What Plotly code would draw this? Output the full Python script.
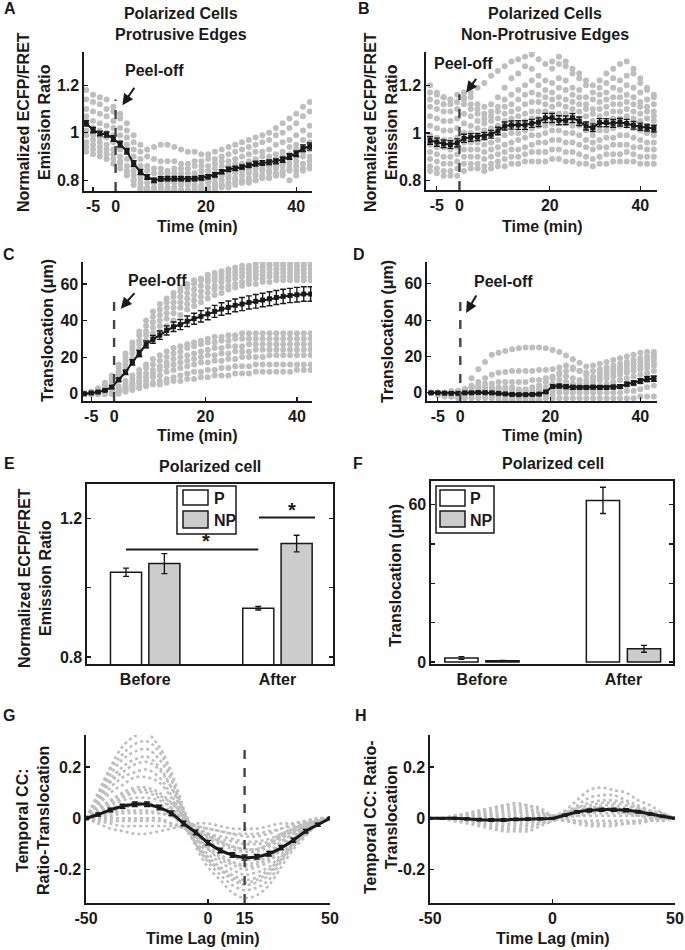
import plotly.graph_objects as go

W, H = 685, 950
FONT = "Liberation Sans, Arial, Helvetica, sans-serif"
INK = "#1a1a1a"
DOT = "#bebebe"
NPGRAY = "#cccccc"

# ---------------- data ----------------
time_min = [-6.5, -5, -3.5, -2, -0.5, 1, 2.5, 4, 5.5, 7, 8.5, 10, 11.5, 13, 14.5, 16, 17.5,
            19, 20.5, 22, 23.5, 25, 26.5, 28, 29.5, 31, 32.5, 34, 35.5, 37, 38.5, 40, 41.5, 43]
time_ticks = [-5, 0, 20, 40]
time_ticktext = ["-5", "0", "20", "40"]

# Panel A: protrusive edges, ECFP/FRET ratio
a_mean = [1.04, 1.011, 0.997, 0.993, 0.976, 0.952, 0.922, 0.870, 0.835, 0.814,
          0.800, 0.806, 0.807, 0.807, 0.807, 0.806, 0.807, 0.810, 0.815, 0.823,
          0.836, 0.846, 0.850, 0.856, 0.863, 0.870, 0.873, 0.876, 0.880, 0.887,
          0.900, 0.912, 0.935, 0.942]
a_err = [0.012, 0.011, 0.010, 0.011, 0.012, 0.012, 0.012, 0.012, 0.011, 0.010,
         0.009, 0.009, 0.009, 0.009, 0.009, 0.009, 0.009, 0.009, 0.009, 0.009,
         0.009, 0.009, 0.009, 0.009, 0.009, 0.010, 0.010, 0.010, 0.010, 0.011,
         0.012, 0.012, 0.014, 0.015]
a_cells = [
    [1.18, 1.16, 1.15, 1.14, 1.11, 1.08, 1.04, 0.99, 0.95, 0.93, 0.94, 0.95, 0.95, 0.94, 0.93, 0.92, 0.92, 0.91, 0.91, 0.92, 0.93, 0.94, 0.95, 0.96, 0.97, 0.98, 0.99, 1.00, 1.02, 1.04, 1.06, 1.08, 1.11, 1.13],
    [1.14, 1.13, 1.12, 1.10, 1.09, 1.06, 1.01, 0.96, 0.92, 0.90, 0.89, 0.88, 0.88, 0.88, 0.87, 0.87, 0.88, 0.88, 0.89, 0.89, 0.90, 0.91, 0.92, 0.93, 0.94, 0.95, 0.96, 0.97, 0.99, 1.00, 1.02, 1.04, 1.07, 1.09],
    [1.10, 1.09, 1.08, 1.07, 1.05, 1.02, 0.98, 0.93, 0.89, 0.86, 0.85, 0.85, 0.84, 0.85, 0.85, 0.85, 0.86, 0.86, 0.86, 0.87, 0.88, 0.88, 0.89, 0.90, 0.91, 0.92, 0.92, 0.93, 0.95, 0.96, 0.97, 0.99, 1.01, 1.03],
    [1.07, 1.05, 1.04, 1.03, 1.02, 0.99, 0.95, 0.90, 0.86, 0.84, 0.83, 0.83, 0.83, 0.83, 0.83, 0.83, 0.83, 0.84, 0.84, 0.85, 0.86, 0.86, 0.87, 0.87, 0.88, 0.89, 0.90, 0.90, 0.91, 0.92, 0.94, 0.95, 0.97, 0.99],
    [1.04, 1.02, 1.01, 1.00, 0.99, 0.96, 0.92, 0.87, 0.83, 0.81, 0.80, 0.80, 0.80, 0.80, 0.81, 0.81, 0.81, 0.82, 0.82, 0.83, 0.83, 0.84, 0.85, 0.85, 0.86, 0.87, 0.87, 0.88, 0.89, 0.90, 0.91, 0.93, 0.94, 0.96],
    [1.01, 0.99, 0.98, 0.98, 0.96, 0.93, 0.89, 0.84, 0.81, 0.79, 0.79, 0.78, 0.79, 0.79, 0.79, 0.79, 0.80, 0.80, 0.80, 0.81, 0.82, 0.82, 0.83, 0.84, 0.84, 0.85, 0.85, 0.86, 0.86, 0.87, 0.89, 0.90, 0.92, 0.93],
    [0.99, 0.97, 0.96, 0.95, 0.93, 0.90, 0.86, 0.82, 0.79, 0.77, 0.77, 0.77, 0.77, 0.77, 0.78, 0.78, 0.78, 0.78, 0.79, 0.79, 0.80, 0.81, 0.81, 0.82, 0.83, 0.83, 0.84, 0.84, 0.85, 0.86, 0.87, 0.88, 0.90, 0.90],
    [0.96, 0.95, 0.94, 0.93, 0.91, 0.88, 0.84, 0.80, 0.77, 0.76, 0.76, 0.76, 0.76, 0.76, 0.76, 0.76, 0.77, 0.77, 0.77, 0.78, 0.78, 0.79, 0.80, 0.80, 0.81, 0.82, 0.82, 0.83, 0.83, 0.84, 0.85, 0.86, 0.87, 0.88],
    [0.94, 0.93, 0.92, 0.91, 0.89, 0.87, 0.82, 0.78, 0.76, 0.75, 0.75, 0.75, 0.75, 0.75, 0.75, 0.75, 0.75, 0.76, 0.76, 0.76, 0.77, 0.77, 0.78, 0.79, 0.79, 0.80, 0.81, 0.81, 0.82, 0.83, 0.84, 0.84, 0.85, 0.86],
    [0.92, 0.91, 0.90, 0.89, 0.87, 0.85, 0.83, 0.80, 0.77, 0.76, 0.75, 0.75, 0.75, 0.75, 0.75, 0.75, 0.76, 0.76, 0.77, 0.77, 0.78, 0.78, 0.79, 0.79, 0.80, 0.80, 0.81, 0.81, 0.82, 0.82, 0.80, 0.82, 0.84, 0.85],
]

# Panel B: non-protrusive edges, ECFP/FRET ratio
b_mean = [0.968, 0.961, 0.954, 0.951, 0.958, 0.977, 0.981, 0.983, 0.987, 0.994,
          1.008, 1.029, 1.033, 1.033, 1.033, 1.040, 1.045, 1.063, 1.063, 1.053,
          1.053, 1.063, 1.049, 1.029, 1.022, 1.043, 1.043, 1.040, 1.045, 1.040,
          1.032, 1.026, 1.022, 1.018]
b_err = [0.016, 0.017, 0.016, 0.016, 0.017, 0.017, 0.016, 0.015, 0.015, 0.016,
         0.016, 0.017, 0.017, 0.018, 0.018, 0.017, 0.018, 0.019, 0.019, 0.019,
         0.018, 0.019, 0.018, 0.017, 0.016, 0.017, 0.017, 0.016, 0.016, 0.017,
         0.016, 0.015, 0.014, 0.014]
b_cells = [
    [1.20, 1.17, 1.15, 1.14, 1.13, 1.15, 1.17, 1.19, 1.21, 1.24, 1.26, 1.28, 1.30, 1.31, 1.32, 1.33, 1.31, 1.29, 1.30, 1.32, 1.30, 1.27, 1.25, 1.22, 1.20, 1.22, 1.25, 1.27, 1.29, 1.30, 1.27, 1.23, 1.19, 1.16],
    [1.17, 1.16, 1.15, 1.14, 1.16, 1.17, 1.15, 1.12, 1.11, 1.12, 1.15, 1.19, 1.23, 1.25, 1.28, 1.27, 1.24, 1.22, 1.27, 1.29, 1.28, 1.25, 1.23, 1.20, 1.17, 1.19, 1.21, 1.23, 1.22, 1.24, 1.25, 1.21, 1.18, 1.15],
    [1.14, 1.13, 1.12, 1.12, 1.13, 1.14, 1.12, 1.10, 1.08, 1.09, 1.11, 1.14, 1.16, 1.18, 1.20, 1.22, 1.20, 1.18, 1.21, 1.23, 1.22, 1.19, 1.18, 1.15, 1.14, 1.16, 1.17, 1.19, 1.18, 1.20, 1.19, 1.17, 1.14, 1.12],
    [1.11, 1.10, 1.09, 1.09, 1.10, 1.12, 1.10, 1.08, 1.06, 1.07, 1.09, 1.11, 1.12, 1.14, 1.16, 1.17, 1.16, 1.15, 1.17, 1.19, 1.18, 1.16, 1.15, 1.12, 1.10, 1.13, 1.14, 1.15, 1.15, 1.16, 1.15, 1.13, 1.11, 1.09],
    [1.07, 1.06, 1.05, 1.05, 1.06, 1.08, 1.07, 1.05, 1.04, 1.05, 1.06, 1.08, 1.09, 1.10, 1.12, 1.13, 1.13, 1.12, 1.14, 1.15, 1.14, 1.13, 1.12, 1.10, 1.08, 1.10, 1.11, 1.12, 1.12, 1.13, 1.12, 1.11, 1.09, 1.07],
    [1.03, 1.02, 1.01, 1.01, 1.02, 1.04, 1.03, 1.02, 1.01, 1.02, 1.03, 1.05, 1.06, 1.07, 1.08, 1.09, 1.09, 1.09, 1.11, 1.12, 1.11, 1.10, 1.09, 1.07, 1.05, 1.07, 1.08, 1.09, 1.09, 1.10, 1.09, 1.08, 1.06, 1.05],
    [0.99, 0.98, 0.97, 0.97, 0.98, 1.00, 1.00, 0.99, 0.98, 0.99, 1.00, 1.02, 1.03, 1.04, 1.05, 1.06, 1.06, 1.06, 1.08, 1.08, 1.08, 1.07, 1.06, 1.04, 1.02, 1.04, 1.05, 1.06, 1.06, 1.07, 1.06, 1.05, 1.03, 1.02],
    [0.95, 0.94, 0.94, 0.93, 0.94, 0.96, 0.96, 0.96, 0.95, 0.96, 0.97, 0.99, 1.00, 1.00, 1.01, 1.02, 1.03, 1.03, 1.04, 1.05, 1.04, 1.03, 1.03, 1.01, 0.99, 1.01, 1.01, 1.02, 1.03, 1.03, 1.02, 1.01, 1.00, 0.99],
    [0.92, 0.91, 0.90, 0.90, 0.91, 0.93, 0.93, 0.93, 0.92, 0.93, 0.94, 0.95, 0.96, 0.97, 0.98, 0.99, 0.99, 1.00, 1.01, 1.01, 1.00, 1.00, 0.99, 0.97, 0.96, 0.97, 0.98, 0.98, 0.99, 0.99, 0.98, 0.97, 0.96, 0.96],
    [0.89, 0.88, 0.87, 0.87, 0.88, 0.90, 0.90, 0.90, 0.89, 0.90, 0.91, 0.92, 0.93, 0.93, 0.94, 0.95, 0.96, 0.96, 0.97, 0.97, 0.96, 0.96, 0.95, 0.94, 0.93, 0.94, 0.94, 0.95, 0.95, 0.95, 0.94, 0.94, 0.93, 0.93],
    [0.86, 0.85, 0.84, 0.84, 0.85, 0.87, 0.87, 0.87, 0.86, 0.87, 0.88, 0.89, 0.90, 0.90, 0.91, 0.92, 0.92, 0.92, 0.93, 0.93, 0.92, 0.92, 0.91, 0.90, 0.89, 0.90, 0.91, 0.91, 0.91, 0.92, 0.91, 0.90, 0.90, 0.90],
    [0.84, 0.83, 0.82, 0.82, 0.82, 0.84, 0.85, 0.85, 0.84, 0.85, 0.86, 0.86, 0.87, 0.87, 0.88, 0.88, 0.88, 0.88, 0.89, 0.89, 0.88, 0.88, 0.87, 0.87, 0.86, 0.87, 0.87, 0.88, 0.88, 0.88, 0.88, 0.87, 0.87, 0.87],
]

# Panel C: protrusive edges, translocation (um)
c_mean = [0, 0.4, 0.9, 1.8, 3.6, 7.6, 11.7, 17.1, 22, 27,
          29.7, 32, 34.6, 36.6, 37.8, 39.6, 41, 42.3, 43.6, 45,
          46.3, 47.2, 48.3, 49, 49.9, 50.5, 51.2, 51.9, 52.6, 53.2,
          53.7, 54.1, 54.5, 54.5]
c_err = [0.3, 0.3, 0.4, 0.5, 0.7, 1.0, 1.2, 1.5, 1.7, 1.9,
         2.1, 2.3, 2.5, 2.6, 2.8, 2.9, 3.0, 3.1, 3.2, 3.3,
         3.4, 3.5, 3.5, 3.6, 3.6, 3.7, 3.7, 3.8, 3.8, 3.9,
         3.9, 4.0, 4.0, 4.0]
c_cells = [
    [0, 1, 3, 6, 10, 16, 22, 28, 34, 40, 45, 49, 52, 55, 58, 60, 62, 63, 65, 66, 67, 68, 69, 70, 70, 71, 71, 71, 71, 71, 71, 71, 71, 71],
    [0, 1, 2, 5, 9, 14, 20, 26, 32, 37, 42, 46, 50, 53, 56, 58, 60, 62, 63, 64, 65, 66, 67, 68, 68, 69, 69, 70, 70, 70, 70, 70, 70, 70],
    [0, 0, 2, 4, 8, 12, 18, 24, 29, 34, 39, 43, 47, 50, 53, 55, 57, 59, 61, 62, 63, 64, 65, 66, 66, 67, 67, 68, 68, 68, 68, 68, 68, 68],
    [0, 0, 1, 3, 7, 11, 16, 22, 27, 32, 36, 40, 44, 47, 50, 52, 54, 56, 58, 59, 61, 62, 63, 64, 64, 65, 65, 66, 66, 66, 66, 66, 66, 66],
    [0, 0, 1, 3, 6, 10, 14, 19, 24, 29, 33, 37, 41, 44, 47, 49, 51, 53, 55, 57, 58, 59, 60, 61, 62, 63, 63, 64, 64, 64, 64, 64, 64, 64],
    [0, 0, 1, 2, 5, 8, 12, 17, 21, 26, 30, 34, 37, 40, 43, 46, 48, 50, 52, 54, 55, 57, 58, 59, 60, 60, 61, 61, 62, 62, 62, 62, 62, 62],
    [0, 0, 0, 1, 2, 4, 7, 10, 13, 16, 19, 21, 23, 25, 26, 27, 28, 29, 30, 31, 31, 32, 32, 33, 33, 33, 33, 33, 33, 33, 33, 33, 33, 33],
    [0, 0, 0, 1, 2, 3, 5, 8, 11, 14, 16, 18, 20, 22, 23, 25, 26, 27, 28, 28, 29, 29, 30, 30, 30, 30, 30, 30, 30, 30, 30, 30, 30, 30],
    [0, 0, 0, 0, 1, 2, 4, 6, 9, 11, 13, 15, 17, 19, 20, 21, 22, 23, 24, 25, 25, 26, 26, 26, 27, 27, 27, 27, 27, 27, 27, 27, 27, 27],
    [0, 0, 0, 0, 1, 2, 3, 5, 7, 9, 11, 13, 15, 16, 17, 18, 19, 20, 21, 21, 22, 22, 23, 23, 23, 24, 24, 24, 24, 24, 24, 24, 24, 24],
    [0, 0, 0, 0, 0, 1, 2, 4, 6, 7, 9, 10, 12, 13, 14, 15, 16, 17, 17, 18, 18, 19, 19, 20, 20, 20, 20, 21, 21, 21, 21, 21, 21, 21],
    [0, 0, 0, 0, 0, 1, 2, 3, 4, 5, 6, 7, 8, 9, 10, 11, 12, 12, 13, 13, 14, 14, 15, 15, 15, 16, 16, 16, 16, 16, 16, 16, 16, 16],
    [0, 0, 0, 0, 0, 0, 1, 2, 3, 4, 5, 5, 6, 7, 7, 8, 8, 9, 9, 10, 10, 10, 11, 11, 11, 12, 12, 12, 12, 12, 12, 13, 13, 13],
]

# Panel D: non-protrusive edges, translocation (um)
d_mean = [0, 0, -0.2, -0.3, -0.3, 0, 0, 0.2, 0.1, 0,
          -0.3, -0.6, -0.9, -1, -1, -0.9, -0.7, 0.5, 3.5, 3.7,
          3.4, 3.0, 3.0, 3.0, 3.1, 3.0, 3.0, 3.2, 3.5, 4.8,
          5.5, 6.5, 7.6, 7.8]
d_err = [0.3, 0.3, 0.3, 0.3, 0.3, 0.4, 0.5, 0.5, 0.5, 0.5,
         0.5, 0.5, 0.5, 0.5, 0.5, 0.5, 0.5, 0.6, 0.9, 1.0,
         1.0, 1.0, 0.9, 0.9, 0.9, 0.9, 0.9, 1.0, 1.0, 1.1,
         1.2, 1.3, 1.4, 1.5]
d_cells = [
    [0, 0, 0, 0, 0, 2, 8, 13, 17, 21, 22, 23, 24, 24.5, 25, 25, 25, 24.5, 23.5, 22.5, 20.5, 18.5, 16.5, 14.5, 15, 16, 17, 18, 19, 20, 21, 22, 22.5, 22.5],
    [0, 0, 0, 0, 0, 2, 4, 6, 8, 10, 11, 11.5, 12, 12, 12, 12, 12.5, 12.5, 13, 14, 15, 14, 12, 11, 12, 13, 14, 15, 16, 17, 18, 19, 20, 21],
    [0, 0, 0, 0, 1, 2, 3, 4, 5, 5, 6, 6, 6, 6, 6, 7, 7, 8, 9, 11, 12, 13, 12, 10, 9, 11, 12, 13, 14, 15, 16, 17, 18, 19],
    [0, 0, 0, 1, 1, 2, 3, 3, 3, 3, 3, 3, 3, 2, 2, 3, 4, 6, 8, 10, 9, 8, 7, 7, 8, 9, 10, 11, 12, 13, 14, 15, 16, 17],
    [0, 0, 0, 0, 1, 1, 1, 2, 2, 2, 2, 2, 2, 1, 1, 1, 2, 3, 5, 7, 6, 5, 5, 5, 6, 7, 8, 9, 10, 11, 12, 13, 14, 15],
    [0, 0, 0, 0, 0, 0, 1, 1, 1, 1, 1, 0, 0, 0, 0, 0, 0, 1, 3, 4, 4, 3, 3, 3, 3, 4, 5, 6, 7, 8, 9, 10, 11, 12],
    [0, 0, -1, -1, -1, 0, 0, 0, 0, 0, -1, -1, -2, -2, -2, -2, -1, 0, 1, 2, 2, 2, 2, 2, 2, 2, 3, 3, 3, 4, 5, 6, 7, 8],
    [0, -1, -1, -2, -2, -1, -1, -1, -1, -2, -2, -3, -3, -3, -3, -3, -2, -2, -1, 0, 0, 0, 0, 0, 0, 0, 0, 0, 0, 1, 1, 2, 3, 4],
    [0, -1, -2, -2, -3, -3, -3, -3, -3, -3, -4, -4, -4, -4, -4, -4, -4, -3, -3, -3, -3, -3, -3, -3, -3, -3, -3, -3, -3, -3, -3, -2, -2, -2],
]

# Panels E, F: bar charts
phase = ["Before", "After"]
e_p = [1.045, 0.941]
e_p_err = [0.012, 0.005]
e_np = [1.070, 1.128]
e_np_err = [0.029, 0.024]
f_p = [1.5, 61.6]
f_p_err = [0.5, 5.0]
f_np = [0.4, 5.0]
f_np_err = [0.2, 1.3]

# Panels G, H: temporal cross-correlation
lag = [-50, -45, -40, -35, -30, -25, -20, -15, -10, -5, 0, 5, 10, 15, 20, 25, 30, 35, 40, 45, 50]
g_mean = [0, 0.015, 0.033, 0.047, 0.055, 0.055, 0.042, 0.02, -0.02, -0.055, -0.095,
          -0.125, -0.143, -0.153, -0.15, -0.138, -0.115, -0.085, -0.05, -0.025, 0]
g_err = [0.005, 0.006, 0.007, 0.008, 0.009, 0.009, 0.009, 0.009, 0.009, 0.009, 0.009,
         0.009, 0.009, 0.010, 0.009, 0.009, 0.008, 0.008, 0.007, 0.006, 0.004]
g_cells = [
    [0, .10, .20, .28, .32, .33, .28, .18, .04, -.08, -.16, -.20, -.23, -.25, -.24, -.21, -.16, -.10, -.06, -.02, 0],
    [0, .09, .19, .25, .29, .30, .26, .16, .02, -.11, -.19, -.24, -.29, -.31, -.30, -.26, -.19, -.12, -.07, -.02, 0],
    [0, .08, .17, .23, .26, .27, .23, .15, .03, -.07, -.14, -.17, -.20, -.22, -.21, -.19, -.14, -.09, -.05, -.02, 0],
    [0, .07, .15, .20, .23, .24, .20, .12, .01, -.10, -.17, -.22, -.26, -.28, -.27, -.24, -.17, -.11, -.06, -.02, 0],
    [0, .07, .14, .18, .21, .22, .19, .12, .03, -.06, -.11, -.14, -.17, -.18, -.17, -.15, -.11, -.07, -.04, -.01, 0],
    [0, .06, .12, .16, .18, .19, .16, .09, .00, -.10, -.16, -.20, -.24, -.26, -.25, -.22, -.16, -.10, -.06, -.02, 0],
    [0, .05, .10, .13, .16, .16, .14, .08, .00, -.07, -.12, -.16, -.18, -.20, -.19, -.17, -.12, -.08, -.04, -.02, 0],
    [0, .04, .07, .10, .12, .12, .10, .06, .00, -.06, -.10, -.12, -.15, -.16, -.16, -.14, -.10, -.06, -.04, -.01, 0],
    [0, .03, .06, .08, .10, .10, .08, .04, -.03, -.10, -.15, -.19, -.22, -.24, -.23, -.20, -.15, -.10, -.05, -.02, 0],
    [0, .02, .05, .07, .08, .08, .07, .04, -.01, -.05, -.08, -.10, -.12, -.13, -.13, -.11, -.08, -.05, -.03, -.01, 0],
    [0, .02, .03, .04, .05, .05, .04, .01, -.03, -.08, -.12, -.15, -.17, -.19, -.18, -.16, -.12, -.08, -.04, -.02, 0],
    [0, .01, .02, .03, .03, .03, .02, .01, -.02, -.04, -.06, -.08, -.09, -.10, -.10, -.09, -.06, -.04, -.02, -.01, 0],
    [0, 0, 0, 0, 0, 0, 0, -.02, -.04, -.07, -.09, -.12, -.14, -.15, -.15, -.13, -.09, -.06, -.03, -.01, 0],
    [0, -.01, -.02, -.03, -.03, -.03, -.03, -.03, -.03, -.03, -.04, -.05, -.06, -.07, -.07, -.06, -.04, -.03, -.02, -.01, 0],
    [0, -.02, -.04, -.05, -.06, -.06, -.05, -.04, -.03, -.02, -.02, -.03, -.04, -.04, -.04, -.03, -.02, -.02, -.01, 0, 0],
    [0, .03, .07, .09, .11, .11, .09, .06, .01, -.04, -.07, -.09, -.11, -.12, -.12, -.10, -.07, -.05, -.03, -.01, 0],
    [0, .02, .04, .05, .06, .06, .05, .03, .00, -.03, -.06, -.07, -.08, -.09, -.09, -.08, -.06, -.04, -.02, -.01, 0],
    [0, 0, -.01, -.01, -.01, -.01, -.01, -.02, -.03, -.05, -.07, -.09, -.11, -.12, -.12, -.10, -.07, -.05, -.03, -.01, 0],
    [0, .01, .01, .02, .02, .02, .02, .01, -.01, -.03, -.04, -.05, -.06, -.06, -.06, -.05, -.04, -.02, -.01, 0, 0],
]
h_mean = [0, 0, 0, -0.002, -0.005, -0.006, -0.006, -0.004, -0.003, -0.002, 0,
          0.012, 0.025, 0.031, 0.034, 0.034, 0.032, 0.026, 0.017, 0.008, 0]
h_err = [0.002, 0.003, 0.004, 0.004, 0.005, 0.005, 0.005, 0.005, 0.005, 0.004, 0.003,
         0.004, 0.005, 0.006, 0.006, 0.006, 0.006, 0.005, 0.004, 0.003, 0.002]
h_cells = [
    [0, .00, .01, .02, .03, .04, .05, .05, .05, .03, .01, .03, .07, .11, .12, .11, .10, .07, .05, .02, 0],
    [0, .00, .00, -.01, -.01, -.01, -.02, -.02, -.02, -.01, .00, .02, .05, .08, .09, .09, .07, .05, .03, .02, 0],
    [0, .00, .01, .02, .03, .04, .05, .06, .05, .04, .01, .02, .04, .06, .07, .07, .06, .04, .03, .01, 0],
    [0, .00, .00, .01, .02, .02, .03, .03, .03, .02, .01, .02, .04, .05, .06, .06, .05, .04, .02, .01, 0],
    [0, .00, -.01, -.01, -.02, -.03, -.04, -.04, -.04, -.02, -.01, .01, .03, .04, .05, .05, .04, .03, .02, .01, 0],
    [0, .00, .00, .01, .01, .01, .02, .02, .02, .01, .00, .01, .02, .04, .04, .04, .03, .02, .02, .01, 0],
    [0, 0, 0, 0, 0, 0, 0, 0, 0, 0, 0, .01, .02, .03, .03, .03, .02, .02, .01, .01, 0],
    [0, .00, -.01, -.02, -.03, -.04, -.05, -.05, -.05, -.03, -.01, .01, .01, .02, .02, .02, .02, .01, .01, .00, 0],
    [0, .00, .01, .01, .02, .03, .04, .04, .04, .02, .01, .00, .01, .01, .01, .01, .01, .01, .00, .00, 0],
    [0, .00, .00, -.01, -.02, -.02, -.03, -.03, -.03, -.02, -.01, .00, -.01, -.01, -.01, -.01, -.01, -.01, .00, .00, 0],
    [0, 0, 0, 0, .01, .01, .01, .01, .01, .01, .00, -.01, -.01, -.02, -.02, -.02, -.02, -.01, -.01, .00, 0],
    [0, 0, 0, 0, -.01, -.01, -.01, -.01, -.01, -.01, .00, -.01, -.02, -.03, -.03, -.03, -.02, -.02, -.01, -.01, 0],
]

# ---------------- figure ----------------
fig = go.Figure()


def px_x(px):
    return px / W


def px_y(py):
    return 1 - py / H


# panel boxes in pixels: (left, right, top, bottom)
boxes = {
    "": (84, 312, 52, 191),
    "2": (426, 657, 52, 190),
    "3": (83, 312, 262, 401),
    "4": (427, 657, 262, 401),
    "5": (87, 333, 484, 664),
    "6": (431, 673, 481, 664),
    "7": (86, 330, 735, 903),
    "8": (430, 675, 735, 903),
}


def base_axis(**kw):
    d = dict(showline=True, linecolor=INK, linewidth=1.6, ticks="inside", ticklen=4,
             tickwidth=1.2, tickcolor=INK, showgrid=False, zeroline=False,
             automargin=False,
             tickfont=dict(family=FONT, size=16, color=INK, weight="bold"),
             fixedrange=True)
    d.update(kw)
    return d


axes_cfg = {
    "": dict(xr=[-7.0, 43.5], yr=[0.755, 1.34], xt=(time_ticks, time_ticktext),
             yt=([0.8, 1.0, 1.2], ["0.8", "1", "1.2"]), box=False),
    "2": dict(xr=[-7.4, 43.7], yr=[0.76, 1.34], xt=(time_ticks, time_ticktext),
              yt=([0.8, 1.0, 1.2], ["0.8", "1", "1.2"]), box=False),
    "3": dict(xr=[-6.8, 43.3], yr=[-4, 72], xt=(time_ticks, time_ticktext),
              yt=([0, 20, 40, 60], ["0", "20", "40", "60"]), box=False),
    "4": dict(xr=[-7.4, 43.7], yr=[-4.5, 72], xt=(time_ticks, time_ticktext),
              yt=([0, 20, 40, 60], ["0", "20", "40", "60"]), box=False),
    "5": dict(xr=[-0.44, 1.42], yr=[0.78, 1.30], xt=None,
              yt=([0.8, 1.0, 1.2], ["0.8", "", "1.2"]), box=True),
    "6": dict(xr=[-0.36, 1.35], yr=[-0.8, 69], xt=None,
              yt=([0, 15, 30, 45, 60], ["0", "", "", "", "60"]), box=True),
    "7": dict(xr=[-50, 50], yr=[-0.33, 0.325], xt=([-50, 0, 15, 50], ["-50", "0", "15", "50"]),
              yt=([-0.2, 0, 0.2], ["-0.2", "0", "0.2"]), box=False),
    "8": dict(xr=[-50, 50], yr=[-0.33, 0.325], xt=([-50, 0, 50], ["-50", "0", "50"]),
              yt=([-0.2, 0, 0.2], ["-0.2", "0", "0.2"]), box=False),
}

layout_axes = {}
for k, cfg in axes_cfg.items():
    l, r, t, b = boxes[k]
    xd = [px_x(l), px_x(r)]
    yd = [px_y(b), px_y(t)]
    xa = base_axis(domain=xd, range=cfg["xr"], anchor="y" + k)
    ya = base_axis(domain=yd, range=cfg["yr"], anchor="x" + k,
                   tickvals=cfg["yt"][0], ticktext=cfg["yt"][1])
    if cfg["xt"] is not None:
        xa.update(tickvals=cfg["xt"][0], ticktext=cfg["xt"][1])
    else:
        xa.update(ticks="", type="category")
    if cfg["box"]:
        xa.update(mirror=True)
        ya.update(mirror="ticks")
    layout_axes["xaxis" + k] = xa
    layout_axes["yaxis" + k] = ya


def add_cells(cells, xs, k, mode="markers"):
    for s in cells:
        if mode == "markers":
            fig.add_trace(go.Scatter(x=xs, y=s, mode="markers",
                                     marker=dict(size=6, color=DOT),
                                     xaxis="x" + k, yaxis="y" + k,
                                     hoverinfo="skip", showlegend=False))
        else:
            fig.add_trace(go.Scatter(x=xs, y=s, mode="lines",
                                     line=dict(color=DOT, width=2.6, dash="dot", shape="spline"),
                                     xaxis="x" + k, yaxis="y" + k,
                                     hoverinfo="skip", showlegend=False))


def add_mean(xs, ys, err, k, lw=2, ms=5, spline=False):
    fig.add_trace(go.Scatter(x=xs, y=ys, mode="lines+markers",
                             line=dict(color=INK, width=lw, shape="spline" if spline else "linear"),
                             marker=dict(symbol="square", size=ms, color=INK),
                             error_y=dict(type="data", array=err, color=INK, thickness=1.4, width=3),
                             xaxis="x" + k, yaxis="y" + k, showlegend=False))


add_cells(a_cells, time_min, "")
add_mean(time_min, a_mean, a_err, "")
add_cells(b_cells, time_min, "2")
add_mean(time_min, b_mean, b_err, "2")
add_cells(c_cells, time_min, "3")
add_mean(time_min, c_mean, c_err, "3")
add_cells(d_cells, time_min, "4")
add_mean(time_min, d_mean, d_err, "4")
add_cells(g_cells, lag, "7", mode="lines")
add_mean(lag, g_mean, g_err, "7", lw=3, ms=4, spline=True)
add_cells(h_cells, lag, "8", mode="lines")
add_mean(lag, h_mean, h_err, "8", lw=3, ms=3, spline=True)

# bars
for k, p, pe, n, ne in [("5", e_p, e_p_err, e_np, e_np_err), ("6", f_p, f_p_err, f_np, f_np_err)]:
    fig.add_trace(go.Bar(x=phase, y=p, name="P",
                         marker=dict(color="white", line=dict(color=INK, width=1.5)),
                         error_y=dict(type="data", array=pe, color=INK, thickness=1.4, width=3),
                         xaxis="x" + k, yaxis="y" + k, showlegend=False))
    fig.add_trace(go.Bar(x=phase, y=n, name="NP",
                         marker=dict(color=NPGRAY, line=dict(color=INK, width=1.5)),
                         error_y=dict(type="data", array=ne, color=INK, thickness=1.4, width=3),
                         xaxis="x" + k, yaxis="y" + k, showlegend=False))

shapes = []
# peel-off dashed lines / lag 15 line
for k, xv, y0, y1 in [("", 0, 0.755, 1.14), ("2", 0, 0.76, 1.162), ("3", 0, -4, 53),
                      ("4", 0, -4.5, 51.3), ("7", 15, -0.33, 0.29)]:
    shapes.append(dict(type="line", xref="x" + k, yref="y" + k, x0=xv, x1=xv, y0=y0, y1=y1,
                       line=dict(color="#444444", width=2.4, dash="dash")))

# significance bars (panel E)
sig_e = [(-0.145, 0.855, 1.111), (0.86, 1.284, 1.203)]
for x0, x1, yv in sig_e:
    shapes.append(dict(type="line", xref="x5", yref="y5", x0=x0, x1=x1, y0=yv, y1=yv,
                       line=dict(color=INK, width=2)))


# legend boxes drawn in pixels
def rect_px(x0, y0, x1, y1, fill="rgba(0,0,0,0)", lw=1.5):
    shapes.append(dict(type="rect", xref="paper", yref="paper",
                       x0=px_x(x0), x1=px_x(x1), y0=px_y(y1), y1=px_y(y0),
                       fillcolor=fill, line=dict(color=INK, width=lw)))


rect_px(177, 486, 236, 534, fill="white")
rect_px(183, 490, 208, 505, fill="white")
rect_px(183, 511, 208, 528, fill=NPGRAY)
rect_px(436, 486, 494, 533, fill="white")
rect_px(440, 490, 465, 506, fill="white")
rect_px(440, 511, 465, 527, fill=NPGRAY)


def ann_px(text, x, y, size=16, xanchor="center", yanchor="middle", angle=0):
    fig.add_annotation(text=text, x=px_x(x), y=px_y(y), xref="paper", yref="paper",
                       showarrow=False, textangle=angle, xanchor=xanchor, yanchor=yanchor,
                       font=dict(family=FONT, size=size, color=INK, weight="bold"))


# legend labels
ann_px("P", 212, 498, xanchor="left")
ann_px("NP", 212, 520, xanchor="left")
ann_px("P", 468, 498, xanchor="left")
ann_px("NP", 468, 520, xanchor="left")

# panel letters
for lt, x, y in [("A", 10, 9), ("B", 364, 9), ("C", 9, 255), ("D", 359, 255),
                 ("E", 9, 463), ("F", 358, 463), ("G", 9, 715), ("H", 361, 715)]:
    ann_px(lt, x, y)

# titles
ann_px("Polarized Cells<br>Protrusive Edges", 181, 24)
ann_px("Polarized Cells<br>Non-Protrusive Edges", 545, 24)
ann_px("Polarized cell", 210, 466)
ann_px("Polarized cell", 553, 463)

# x titles
for x, y in [(197, 226), (542, 226), (197, 436), (542, 436)]:
    ann_px("Time (min)", x, y)
ann_px("Time Lag (min)", 203, 938)
ann_px("Time Lag (min)", 553, 938)

# y titles
ann_px("Normalized ECFP/FRET<br>Emission Ratio", 34, 122, angle=-90)
ann_px("Normalized ECFP/FRET<br>Emission Ratio", 381, 122, angle=-90)
ann_px("Translocation (μm)", 47, 331, angle=-90)
ann_px("Translocation (μm)", 387, 331, angle=-90)
ann_px("Normalized ECFP/FRET<br>Emission Ratio", 35, 578, angle=-90)
ann_px("Translocation (μm)", 395, 576, angle=-90)
ann_px("Temporal CC:<br>Ratio-Translocation", 33, 821, angle=-90)
ann_px("Temporal CC: Ratio-<br>Translocation", 381, 818, angle=-90)

# peel-off labels
for x, y in [(154, 70), (463, 63), (157, 280), (503, 281)]:
    ann_px("Peel-off", x, y)

# arrows
for k, xv, yv, ax, ay in [("", 1.5, 1.116, 13, -19), ("2", 1.5, 1.17, 11, -15),
                          ("3", 1.46, 46.5, 15, -17), ("4", 1.3, 44, 11, -19)]:
    fig.add_annotation(x=xv, y=yv, xref="x" + k, yref="y" + k, ax=ax, ay=ay, text="",
                       showarrow=True, arrowhead=2, arrowsize=1.1, arrowwidth=2,
                       arrowcolor=INK)

# significance stars
for k, xv, yv in [("5", 0.46, 1.134), ("5", 1.11, 1.226), ("6", 0.855, 70.9)]:
    fig.add_annotation(x=xv, y=yv, xref="x" + k, yref="y" + k, text="*", showarrow=False,
                       font=dict(family=FONT, size=20, color=INK, weight="bold"))

fig.update_layout(
    template="none",
    width=W, height=H, margin=dict(l=0, r=0, t=0, b=0, pad=0),
    paper_bgcolor="white", plot_bgcolor="white", showlegend=False,
    barmode="group", bargap=0.42, bargroupgap=0.19,
    font=dict(family=FONT, size=16, color=INK),
    hovermode=False,
    shapes=shapes,
    **layout_axes,
)

# remove the default page margin so the figure sits at the window's top-left corner
fig.write_html("out.html", config={"displayModeBar": False, "staticPlot": True},
               post_script="document.body.style.margin='0';")
